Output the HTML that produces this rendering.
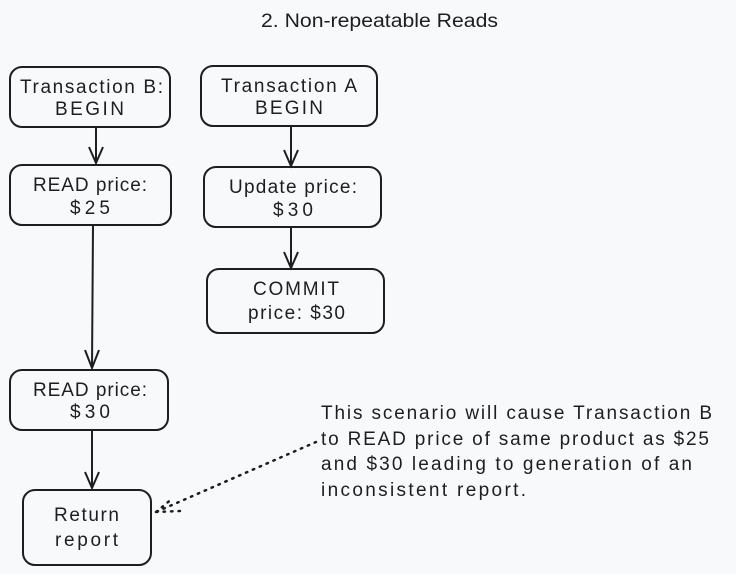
<!DOCTYPE html>
<html><head><meta charset="utf-8"><style>
html,body{margin:0;padding:0;background:#f8f9fb;}
svg{display:block}
text{font-family:"Liberation Sans",sans-serif;fill:#1e1e1e;}
</style></head><body>
<svg width="736" height="574" viewBox="0 0 736 574" xmlns="http://www.w3.org/2000/svg">
<rect width="736" height="574" fill="#f8f9fb"/>
<text x="261" y="27" font-size="19" textLength="237" lengthAdjust="spacingAndGlyphs">2. Non-repeatable Reads</text>
<g fill="none" stroke="#1e1e1e" stroke-width="2">
<rect x="10" y="67" width="160" height="60" rx="12"/>
<rect x="201" y="66" width="176" height="60" rx="12"/>
<rect x="10" y="165" width="161" height="60" rx="12"/>
<rect x="204" y="167" width="177" height="60" rx="12"/>
<rect x="207" y="269" width="177" height="64" rx="12"/>
<rect x="10" y="370" width="158" height="60" rx="12"/>
<rect x="23" y="490" width="128" height="75" rx="12"/>
<path d="M96 127 L96 163 M89 147 L96 163 L103 147"/>
<path d="M291 127 L291 166 M284 150 L291 166 L298 150"/>
<path d="M291 227 L291 268 M284 252 L291 268 L298 252"/>
<path d="M93 225 L92 368 M85 350 L92 368 L99 350"/>
<path d="M92 430 L92 488 M85 472 L92 488 L99 472"/>
<path d="M316 442 L156 512 M156 512 L173 498 M156 512 L180 511" stroke-dasharray="1.5 6" stroke-linecap="round" stroke-width="2.5"/>
</g>
<g font-size="19" lengthAdjust="spacingAndGlyphs">
<text x="20" y="93" textLength="143">Transaction B:</text><text x="55" y="115" textLength="69">BEGIN</text>
<text x="221" y="92" textLength="136">Transaction A</text><text x="255" y="114" textLength="68">BEGIN</text>
<text x="33" y="191" textLength="114">READ price:</text><text x="70" y="214" textLength="40">$25</text>
<text x="229" y="193" textLength="128">Update price:</text><text x="273" y="216" textLength="40">$30</text>
<text x="253" y="295" textLength="86">COMMIT</text><text x="248" y="319" textLength="97">price: $30</text>
<text x="33" y="396" textLength="114">READ price:</text><text x="70" y="418" textLength="40">$30</text>
<text x="54" y="521" textLength="65">Return</text><text x="55" y="546" textLength="63">report</text>
<text x="321" y="419" textLength="391">This scenario will cause Transaction B</text>
<text x="321" y="445" textLength="388">to READ price of same product as $25</text>
<text x="321" y="470" textLength="371">and $30 leading to generation of an</text>
<text x="321" y="496" textLength="205">inconsistent report.</text>
</g>
</svg>
</body></html>
